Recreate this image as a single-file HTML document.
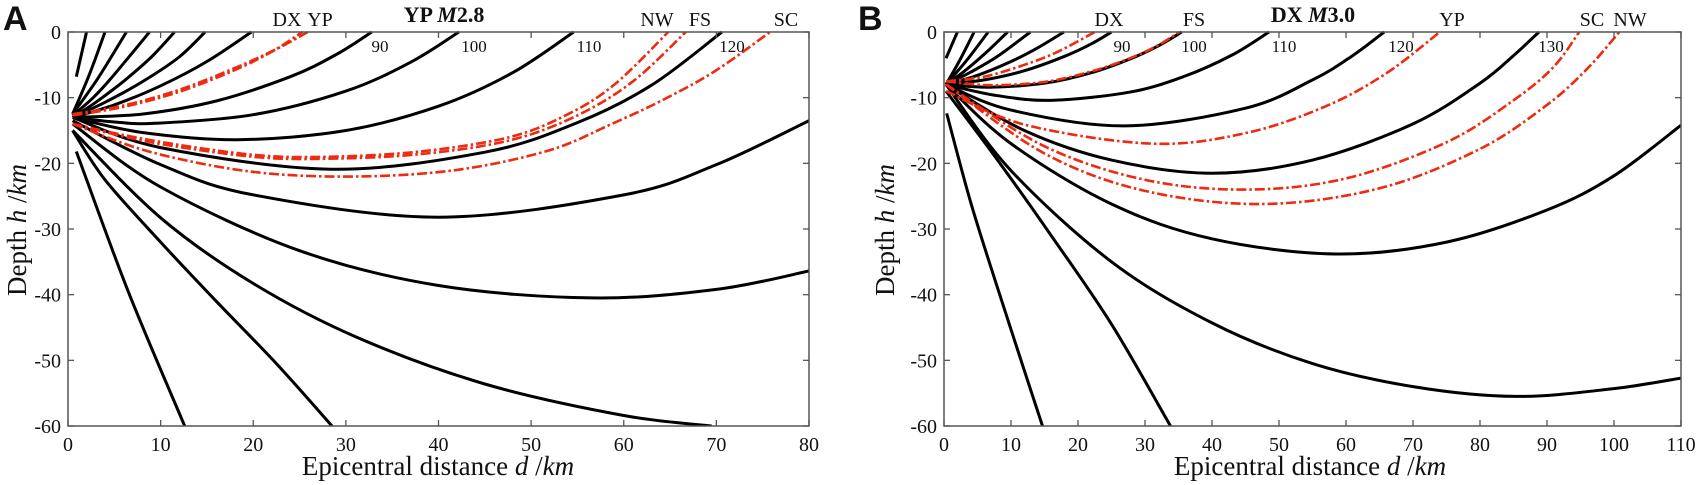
<!DOCTYPE html>
<html><head><meta charset="utf-8"><style>
html,body{margin:0;padding:0;background:#fff;}
svg{display:block;}
text{font-family:"Liberation Serif",serif;fill:#111;}
.pl{font-family:"Liberation Sans",sans-serif;font-weight:bold;}
</style></head><body>
<svg id="fig" width="1699" height="485" viewBox="0 0 1699 485" xmlns="http://www.w3.org/2000/svg">
</svg>
<script>
// ---------- Panel A data ----------
const aXTicks = [0,10,20,30,40,50,60,70,80];
const aYTicks = [0,-10,-20,-30,-40,-50,-60];
const aBlackRays = [
 [[0.9,-6.8],[2.0,0]],
 [[0.5,-12.5],[2.3,-6.5],[4.0,0]],
 [[0.5,-12.5],[3.3,-6.9],[6.3,0]],
 [[0.5,-12.7],[2.5,-10.3],[4.5,-7.3],[8.8,0]],
 [[0.5,-13],[3,-10.7],[6,-7.5],[9,-3.8],[11.5,0]],
 [[0.5,-13],[4,-10.7],[8,-7.6],[12,-3.8],[14.8,0]],
 [[0.5,-13],[5,-11.1],[10,-8.2],[15,-4.5],[19.8,0]],
 [[0.5,-13],[8,-12.5],[16,-10.5],[24,-6.8],[29,-3.4],[32.8,0]],
 [[0.5,-13],[5,-13.7],[9.4,-13.9],[20,-12.6],[30,-9],[37,-4.6],[42.2,0]],
 [[0.5,-13],[8,-15.3],[18.3,-16.4],[30,-15],[40,-11.3],[48,-6.2],[54.6,0]],
 [[0.5,-13],[10,-17.6],[28.4,-20.9],[45,-18.3],[55,-13.8],[63,-8.1],[70.6,0]],
 [[0.5,-13.5],[10,-20.2],[20,-24.8],[40,-28.2],[60,-24.8],[70,-20.2],[80,-13.5]],
 [[0.5,-14],[10,-23.6],[25,-33.3],[40,-38.6],[56.5,-40.5],[70,-39.2],[80,-36.4]],
 [[0.5,-15],[10,-28.3],[20,-38.3],[31.2,-46.5],[45,-53.6],[60,-58.4],[69.5,-60]],
 [[0.5,-15],[4,-22.5],[10,-32],[16,-41],[22.5,-50.5],[28.5,-60]],
 [[0.9,-18.2],[6.5,-39.5],[12.6,-60]]
];
const aRedRays = [
 [[0.5,-12.7],[6,-11.4],[12,-9.1],[18,-5.8],[22,-3],[25.3,0]],
 [[0.5,-12.5],[6,-11.2],[12,-8.8],[18,-5.5],[22.5,-2.6],[25.9,0]],
 [[0.5,-14],[9,-16.5],[20,-18.7],[28,-19],[38,-18.2],[47.7,-16],[54,-12.5],[59,-8],[64.8,0]],
 [[0.5,-14],[9,-16.8],[20,-19],[28,-19.3],[38,-18.6],[47.7,-16.5],[55,-12.7],[61,-7.5],[66.7,0]],
 [[0.5,-14],[9,-18.3],[20,-21.3],[31,-22],[42,-21],[52,-18],[58.7,-14],[64,-10.5],[69.8,-6],[75.8,0]]
];
const aStations = ["DX","YP","NW","FS","SC"];
const aStationX = [287,320,657,700,786];
const aDistLabels = ["90","100","110","120"];
const aDistLabelX = [380,474,589,732];

// ---------- Panel B data ----------
const bXTicks = [0,10,20,30,40,50,60,70,80,90,100,110];
const bYTicks = [0,-10,-20,-30,-40,-50,-60];
const bBlackRays = [
 [[0.3,-4],[2.0,0]],
 [[0.3,-8],[2.4,-4.2],[4.5,0]],
 [[0.3,-8],[3.4,-4.3],[6.6,0]],
 [[0.3,-8],[3,-6],[6,-3.4],[9.5,0]],
 [[0.3,-8],[4,-6.1],[8,-3.7],[12.9,0]],
 [[0.3,-8],[5,-6.6],[10,-4.5],[14,-2.4],[17.9,0]],
 [[0.3,-8],[6,-7.3],[12,-5.9],[18,-3.7],[22,-1.8],[25,0]],
 [[0.3,-8],[6.8,-8.4],[15,-7.8],[22,-6.2],[28,-4],[32,-2.1],[35.5,0]],
 [[0.3,-8],[8,-9.7],[16.3,-10.4],[28,-9.1],[36,-6.7],[43,-3.5],[48.5,0]],
 [[0.3,-8],[10,-11.9],[27,-14.3],[45,-11.6],[55,-7.3],[61,-3.6],[65.7,0]],
 [[0.3,-8],[12,-15],[25,-19.5],[40,-21.5],[55,-19.5],[70,-14],[80,-7.8],[85,-3.6],[88.8,0]],
 [[0.3,-8],[10,-17],[25,-26.2],[40,-31.5],[58.5,-33.8],[75,-32],[90,-27.1],[100,-21.9],[110,-14.2]],
 [[0.3,-8],[10,-21.1],[25,-35],[40,-44.3],[55,-50.5],[70,-54],[85.3,-55.5],[100,-54.3],[110,-52.7]],
 [[0.3,-9],[8,-19.5],[16,-31],[25,-44.5],[33.8,-60]],
 [[0.4,-12.4],[4,-26],[8,-39],[11.5,-50],[14.7,-60]]
];
const bRedRays = [
 [[0.3,-7.5],[6,-6.8],[12,-5],[17,-3],[22.5,0]],
 [[0.3,-7.5],[6.8,-8.1],[15,-7.6],[22,-6],[28,-3.9],[32,-2],[35.1,0]],
 [[0.3,-9],[12,-14.1],[30.9,-17],[45,-15.4],[57,-11.3],[66,-6.3],[74,0]],
 [[0.3,-8],[15,-17.4],[30,-22.5],[45.1,-24],[60,-22.3],[75,-16.8],[85,-10.4],[91,-5.3],[94.8,0]],
 [[0.3,-8],[15,-18.5],[30,-24.2],[47.6,-26.2],[65,-23.8],[80,-17.8],[90,-11.1],[96,-5.6],[100.8,0]]
];
const bStations = ["DX","FS","YP","SC","NW"];
const bStationX = [1109,1194,1452,1592,1630];
const bDistLabels = ["90","100","110","120","130"];
const bDistLabelX = [1122,1194,1284,1401,1551];

const NS = "http://www.w3.org/2000/svg";
const svg = document.getElementById('fig');
function mk(tag, attrs, parent){
  const e = document.createElementNS(NS, tag);
  for (const k in attrs) e.setAttribute(k, attrs[k]);
  (parent||svg).appendChild(e);
  return e;
}
function crPath(pts, sx, sy){
  const P = pts.map(p=>[sx(p[0]), sy(p[1])]);
  if (P.length===2) return `M${P[0][0]},${P[0][1]}L${P[1][0]},${P[1][1]}`;
  let d = `M${P[0][0].toFixed(1)},${P[0][1].toFixed(1)}`;
  for (let i=0;i<P.length-1;i++){
    const p0=P[Math.max(0,i-1)], p1=P[i], p2=P[i+1], p3=P[Math.min(P.length-1,i+2)];
    const c1=[p1[0]+(p2[0]-p0[0])/6, p1[1]+(p2[1]-p0[1])/6];
    const c2=[p2[0]-(p3[0]-p1[0])/6, p2[1]-(p3[1]-p1[1])/6];
    d += `C${c1[0].toFixed(1)},${c1[1].toFixed(1)} ${c2[0].toFixed(1)},${c2[1].toFixed(1)} ${p2[0].toFixed(1)},${p2[1].toFixed(1)}`;
  }
  return d;
}

function panel(cfg){
  const {id,x0,x1,y0,y1,xmax,xTicks,yTicks,black,red,stations,stationX,distLabels,distLabelX,letter,letterX,titleA,titleB,titleX,yTitleX,xTitleX,yLabX} = cfg;
  const g = mk('g',{});
  
  
  const sx = d => x0 + (x1-x0)*d/xmax;
  const sy = h => y0 + (y1-y0)*(-h)/60;
  const clipId = id+'-clip';
  const cp = mk('clipPath',{id:clipId},g);
  mk('rect',{x:x0,y:y0-2,width:x1-x0,height:y1-y0+2},cp);
  const curves = mk('g',{'clip-path':`url(#${clipId})`},g);
  
  
  black.forEach((r,i)=>{
    const p = mk('path',{d:crPath(r,sx,sy),fill:'none',stroke:'#000','stroke-width':3,'stroke-linecap':'butt'},curves);
    
    
  });
  red.forEach((r,i)=>{
    const p = mk('path',{d:crPath(r,sx,sy),fill:'none',stroke:'#ee2a10','stroke-width':2.6,'stroke-dasharray':'10 3 2.5 3'},curves);
    
    
  });
  const fr = mk('rect',{x:x0,y:y0,width:x1-x0,height:y1-y0,fill:'none',stroke:'#555','stroke-width':1.5},g);
  
  
  xTicks.forEach(t=>{
    const x = sx(t);
    mk('line',{x1:x,y1:y1,x2:x,y2:y1-6,stroke:'#555','stroke-width':1.3},g);
    mk('line',{x1:x,y1:y0,x2:x,y2:y0+6,stroke:'#555','stroke-width':1.3},g);
    const tl = mk('text',{x:x,y:y1+25,'text-anchor':'middle','font-size':20},g);
    tl.textContent = t;
    
    
  });
  yTicks.forEach(t=>{
    const y = sy(t);
    mk('line',{x1:x0,y1:y,x2:x0+6,y2:y,stroke:'#555','stroke-width':1.3},g);
    mk('line',{x1:x1,y1:y,x2:x1-6,y2:y,stroke:'#555','stroke-width':1.3},g);
    const tl = mk('text',{x:yLabX,y:y+7,'text-anchor':'end','font-size':20},g);
    tl.textContent = t;
    
    
  });
  stations.forEach((s,i)=>{
    const t = mk('text',{x:stationX[i],y:26,'text-anchor':'middle','font-size':20},g);
    t.textContent = s;
    
    
  });
  distLabels.forEach((s,i)=>{
    const t = mk('text',{x:distLabelX[i],y:52,'text-anchor':'middle','font-size':17},g);
    t.textContent = s;
    
    
  });
  const ti = mk('text',{x:titleX,y:22,'text-anchor':'middle','font-size':22,'font-weight':'bold'},g);
  
  
  ti.innerHTML = titleA+' <tspan font-style="italic">M</tspan>'+titleB;
  const L = mk('text',{x:letterX,y:30,'font-size':34,class:'pl'},g);
  L.textContent = letter;
  
  
  const xt = mk('text',{x:xTitleX,y:475,'text-anchor':'middle','font-size':27},g);
  xt.innerHTML = 'Epicentral distance <tspan font-style="italic">d</tspan> /<tspan font-style="italic">km</tspan>';
  
  
  const yt = mk('text',{x:0,y:0,'text-anchor':'middle','font-size':27,transform:`translate(${yTitleX},230) rotate(-90)`},g);
  yt.innerHTML = 'Depth <tspan font-style="italic">h</tspan> /<tspan font-style="italic">km</tspan>';
  
  
}

panel({id:'panel-a',x0:68,x1:809,y0:32,y1:426,xmax:80,xTicks:aXTicks,yTicks:aYTicks,black:aBlackRays,red:aRedRays,
  stations:aStations,stationX:aStationX,distLabels:aDistLabels,distLabelX:aDistLabelX,letter:'A',letterX:3,
  titleA:'YP',titleB:'2.8',titleX:444,yTitleX:26,xTitleX:438,yLabX:61});
panel({id:'panel-b',x0:944,x1:1681,y0:32,y1:426,xmax:110,xTicks:bXTicks,yTicks:bYTicks,black:bBlackRays,red:bRedRays,
  stations:bStations,stationX:bStationX,distLabels:bDistLabels,distLabelX:bDistLabelX,letter:'B',letterX:858,
  titleA:'DX',titleB:'3.0',titleX:1313,yTitleX:894,xTitleX:1310,yLabX:937});
</script>
</body></html>
